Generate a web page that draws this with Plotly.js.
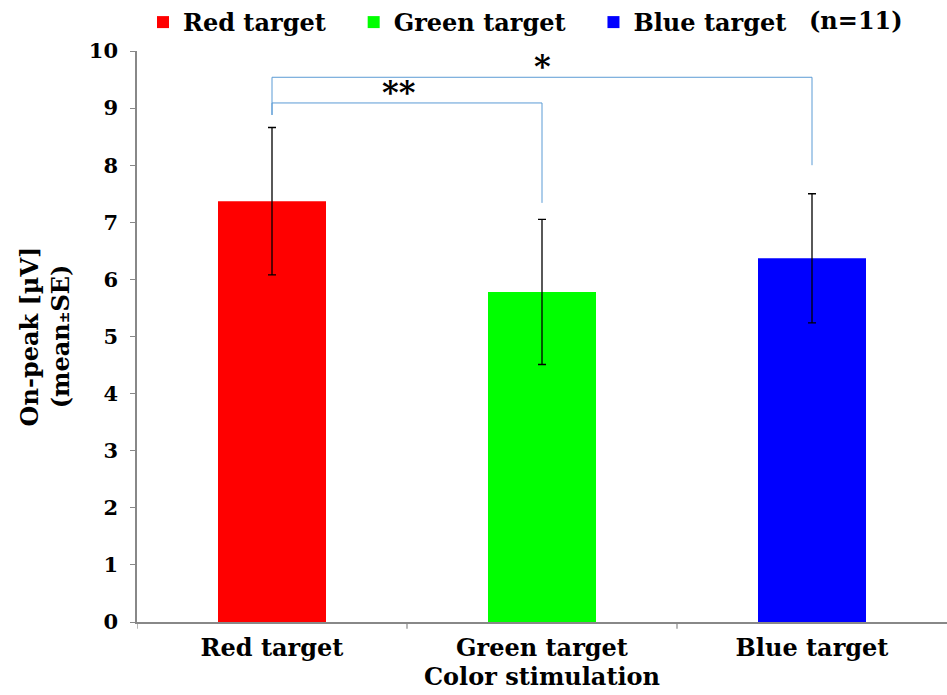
<!DOCTYPE html>
<html>
<head>
<meta charset="utf-8">
<script src="https://cdn.plot.ly/plotly-3.0.1.min.js"></script>
<style>
  html, body { margin: 0; padding: 0; background: #fff; }
  #chart { width: 947px; height: 695px; }
</style>
</head>
<body>
<div id="chart"></div>
<script>
// On-peak amplitude by colour of the target (mean ± SE, n = 11)
const categories = ['Red target', 'Green target', 'Blue target'];
const meanValues = [7.37, 5.78, 6.37];
const seValues = [1.29, 1.27, 1.13];
const barColors = ['#ff0000', '#00ff00', '#0000ff'];

// Significance brackets: category indices, bracket level, leg ends, label
const brackets = [
  { from: 0, to: 2, level: 9.54, leftEnd: 8.88, rightEnd: 8.0, label: '*' },
  { from: 0, to: 1, level: 9.09, leftEnd: 8.88, rightEnd: 7.34, label: '**' }
];

const FONT = 'DejaVu Serif, serif';
const NBSP = '\u00A0';

// one trace per colour so each gets its own legend entry
const traces = categories.map((c, i) => ({
  type: 'bar',
  name: '<b>' + c + '</b>' + NBSP.repeat(3),
  x: [c],
  y: [meanValues[i]],
  marker: { color: barColors[i] },
  width: 0.4,
  error_y: {
    type: 'data',
    array: [seValues[i]],
    visible: true,
    color: '#000',
    thickness: 1.3,
    width: 4
  },
  hoverinfo: 'x+y'
}));

const shapes = [];
const annotations = [];
const bracketColor = '#5b9bd5';
brackets.forEach(b => {
  const xs = [b.from, b.from, b.to, b.to];
  const ys = [b.leftEnd, b.level, b.level, b.rightEnd];
  for (let k = 0; k < 3; k++) {
    shapes.push({
      type: 'line', xref: 'x', yref: 'y',
      x0: xs[k], y0: ys[k], x1: xs[k + 1], y1: ys[k + 1],
      line: { color: bracketColor, width: 1 }
    });
  }
  annotations.push({
    xref: 'x', yref: 'y',
    x: b.label === '*' ? (b.from + b.to) / 2 : (b.from + b.to) / 2 - 0.03,
    y: b.level, yanchor: 'bottom', yshift: -10,
    text: '<b>' + b.label + '</b>',
    showarrow: false,
    font: { family: FONT, size: 32, color: '#000' }
  });
});

// sample size, shown next to the legend
annotations.push({
  xref: 'paper', yref: 'paper',
  x: 1, y: 1, xanchor: 'right', yanchor: 'middle', yshift: 31, xshift: -42,
  text: '<b>(n=11)</b>', showarrow: false,
  font: { family: FONT, size: 24, color: '#000' }
});

const layout = {
  width: 947, height: 695,
  margin: { l: 137, r: 0, t: 51, b: 73 },
  paper_bgcolor: '#fff', plot_bgcolor: '#fff',
  font: { family: FONT, color: '#000' },
  showlegend: true,
  legend: {
    orientation: 'h',
    x: 143 / 947, y: 1.0, xanchor: 'left', yanchor: 'top',
    xref: 'container', yref: 'container',
    font: { family: FONT, size: 24, color: '#000' },
    traceorder: 'normal',
    itemwidth: 30
  },
  xaxis: {
    type: 'category',
    range: [-0.5, 2.5],
    tickvals: [0, 1, 2],
    ticktext: categories.map(c => '<b>' + c + '</b>'),
    tickfont: { family: FONT, size: 24, color: '#000' },
    ticks: '',
    ticklabelstandoff: 3,
    showline: true, linecolor: '#888', linewidth: 1.5,
    showgrid: false, zeroline: false,
    title: { text: '<b>Color stimulation</b>', font: { family: FONT, size: 24, color: '#000' }, standoff: 2 }
  },
  yaxis: {
    range: [0, 10],
    dtick: 1,
    ticks: 'outside', ticklen: 5, tickcolor: '#888',
    ticklabelstandoff: 8,
    tickfont: { family: FONT, size: 21, color: '#000' },
    tickprefix: '<b>', ticksuffix: '</b>',
    showline: true, linecolor: '#888', linewidth: 1.5,
    showgrid: false, zeroline: false,
    title: {
      text: '<b>On-peak [µV]<br>(mean<span style="font-size:14px">±</span>SE)</b>',
      font: { family: FONT, size: 24, color: '#000' },
      standoff: 12
    }
  },
  shapes: shapes,
  annotations: annotations,
  bargap: 0.6
};

// boundary ticks between categories on the x axis
[-0.5, 0.5, 1.5].forEach(xv => {
  layout.shapes.push({
    type: 'line', xref: 'x', yref: 'paper',
    x0: xv, x1: xv, y0: 0, y1: -0.012,
    line: { color: '#888', width: 1.2 }
  });
});

Plotly.newPlot('chart', traces, layout, { displayModeBar: false });
</script>
</body>
</html>
